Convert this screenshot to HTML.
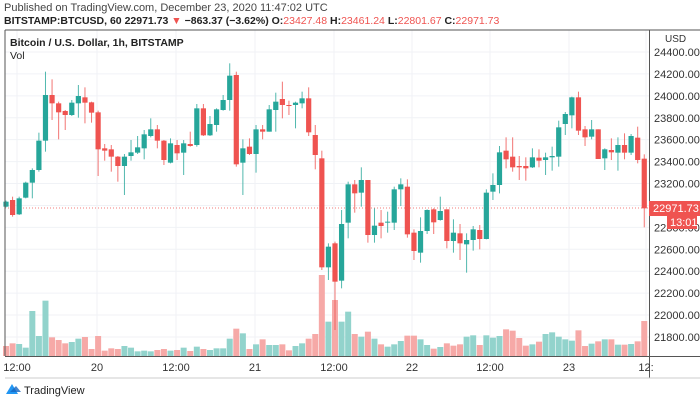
<!DOCTYPE html>
<html><head><meta charset="utf-8"><style>
body{margin:0;width:700px;height:402px;background:#fff;overflow:hidden;font-family:"Liberation Sans",sans-serif}
svg{position:absolute;left:0;top:0}
</style></head><body>
<svg id="s" width="700" height="402" xmlns="http://www.w3.org/2000/svg" font-family="Liberation Sans, sans-serif"></svg>
<script>
const C=[
[1,'g',455,470,452,472],[2,'r',450,495,440,500],[3,'g',445,493,440,495],[4,'g',398,443,395,445],[5,'g',360,398,355,445],
[6,'g',272,360,248,365],[7,'g',135,272,65,305],[8,'r',135,160,88,210],[9,'r',160,187,155,268],[10,'r',183,195,180,240],
[11,'g',158,195,150,198],[12,'g',138,160,105,203],[13,'r',142,158,112,220],[14,'r',157,188,155,218],[15,'r',187,298,182,378],
[16,'r',295,302,282,332],[17,'r',298,320,285,365],[18,'r',320,348,318,395],[19,'g',320,348,312,435],[20,'g',307,318,270,332],
[21,'g',292,308,258,312],[22,'g',253,295,240,328],[23,'g',238,258,205,262],[24,'r',238,272,225,295],[25,'r',272,330,270,345],
[26,'g',280,338,265,340],[27,'r',285,310,270,330],[28,'g',280,308,270,375],[29,'r',282,288,245,290],[30,'g',175,285,162,290],
[31,'r',175,256,162,258],[32,'g',222,256,198,258],[33,'g',178,225,175,245],[34,'g',150,180,135,182],[35,'g',77,150,40,182],
[36,'r',75,343,65,350],[37,'g',295,338,268,435],[38,'r',290,312,265,315],[39,'g',238,312,225,368],[40,'r',238,245,225,268],
[41,'g',178,245,165,245],[42,'g',155,180,128,245],[43,'r',147,165,95,205],[44,'r',165,168,152,195],[45,'g',158,165,155,235],
[46,'g',145,160,125,175],[47,'r',145,247,112,258],[48,'r',255,315,225,358],[49,'r',325,652,302,660],[50,'g',590,652,580,690],
[51,'r',580,695,575,840],[52,'g',522,692,480,715],[53,'g',403,518,395,565],
[54,'r',403,430,390,488],[55,'g',390,428,352,470],[56,'r',390,555,390,578],[57,'g',527,555,475,578],[58,'r',518,528,480,565],
[59,'g',515,518,485,548],[60,'g',418,518,410,540],[61,'g',403,418,385,468],[62,'r',410,553,388,563],[63,'r',548,603,538,630],
[64,'g',543,608,502,638],[65,'g',480,543,478,552],[66,'r',478,517,475,552],[67,'g',483,510,440,512],[68,'r',478,573,478,595],
[69,'g',548,573,508,608],[70,'r',550,580,522,630],[71,'g',570,583,550,668],[72,'g',538,570,528,602],[73,'r',540,567,525,598],
[74,'g',428,567,418,568],[75,'g',405,425,370,450],[76,'g',307,405,288,430],[77,'r',302,328,262,355],[78,'r',320,352,262,365],
[79,'r',348,352,318,390],[80,'r',348,355,322,392],[81,'g',322,352,295,354],[82,'r',323,332,298,352],[83,'g',322,330,308,375],
[84,'g',318,322,290,362],[85,'g',232,320,212,350],[86,'g',192,222,186,255],[87,'g',142,196,140,235],[88,'r',142,242,125,255],
[89,'r',238,262,228,288],[90,'g',238,260,210,268],[91,'r',238,327,238,327],[92,'g',298,325,295,360],[93,'r',300,307,265,330],
[94,'g',285,308,262,362],[95,'r',285,308,250,328],[96,'g',258,308,252,315],[97,'r',263,330,230,340],[98,'r',326,475,313,532]];
const V=[[888,'r'],[880,'r'],[882,'g'],[893,'g'],[783,'g'],[858,'g'],[752,'g'],[862,'r'],[870,'r'],[880,'r'],[876,'g'],[866,'g'],[861,'r'],[897,'r'],[858,'r'],[902,'r'],[895,'r'],[897,'r'],[888,'g'],[893,'g'],[904,'g'],[902,'g'],[904,'g'],[900,'r'],[897,'r'],[902,'g'],[900,'r'],[893,'g'],[903,'r'],[890,'g'],[897,'r'],[900,'g'],[895,'g'],[895,'g'],[866,'g'],[836,'r'],[850,'g'],[897,'r'],[883,'g'],[868,'r'],[885,'g'],[885,'g'],[883,'r'],[901,'r'],[888,'g'],[880,'g'],[866,'r'],[852,'r'],[675,'r'],[815,'g'],[750,'r'],[815,'g'],[785,'g'],
[852,'r'],[860,'g'],[845,'r'],[866,'g'],[883,'r'],[890,'g'],[883,'g'],[873,'g'],[857,'r'],[857,'r'],[868,'g'],[885,'g'],[896,'r'],[891,'g'],[880,'r'],[887,'r'],[883,'r'],[860,'g'],[856,'g'],[885,'r'],[856,'g'],[863,'g'],[858,'g'],[838,'r'],[842,'r'],[864,'r'],[887,'r'],[883,'g'],[875,'r'],[852,'g'],[847,'g'],[860,'g'],[868,'g'],[872,'g'],[841,'r'],[888,'r'],[881,'g'],[874,'r'],[868,'g'],[868,'r'],[884,'g'],[884,'r'],[882,'g'],[874,'r'],[813,'r']];
const Y=z=>50+z/3, X=i=>6+(i-1)*6.58;
let h='';
// grid
const vx=[17,97,176,255,334,412,490,569,646];
vx.forEach(x=>h+=`<line x1="${x}" y1="30" x2="${x}" y2="356" stroke="#f0f2f6"/>`);
for(let p=24400;p>=21800;p-=200){const y=52+(24400-p)/200*21.92;h+=`<line x1="5" y1="${y}" x2="649" y2="${y}" stroke="#f0f2f6"/>`;
 h+=`<text x="654" y="${y+4}" font-size="11" fill="#333">${p}.00</text>`;}
h+=`<text x="665" y="42" font-size="10" fill="#333">USD</text>`;
// volumes
V.forEach((v,k)=>{const x=X(k+1);const y=Y(v[0]);h+=`<rect x="${x-3}" y="${y}" width="6" height="${356-y}" fill="${v[1]=='g'?'#92d3cc':'#f6a9a7'}"/>`});
// price line
h+=`<line x1="5" y1="208" x2="649" y2="208" stroke="#ef5350" stroke-dasharray="1,2" stroke-width="0.8"/>`;
C.forEach(c=>{const x=X(c[0]);const col=c[1]=='g'?'#26a69a':'#ef5350';
 h+=`<line x1="${x}" y1="${Y(c[4])}" x2="${x}" y2="${Y(c[5])}" stroke="${col}" stroke-opacity="0.8"/>`;
 h+=`<rect x="${x-2.6}" y="${Y(c[2])}" width="5.2" height="${Math.max(1,(c[3]-c[2])/3)}" fill="${col}"/>`;});
// frame
h+=`<line x1="5" y1="30" x2="700" y2="30" stroke="#555"/><line x1="5" y1="30" x2="5" y2="356" stroke="#555"/>`;
h+=`<line x1="649.5" y1="30" x2="649.5" y2="378" stroke="#555"/><line x1="5" y1="356.5" x2="700" y2="356.5" stroke="#555"/>`;
h+=`<line x1="5" y1="378" x2="700" y2="378" stroke="#ccc"/>`;
// price labels
h+=`<rect x="649" y="201" width="51" height="15" fill="#ef5350"/><text x="653" y="212" font-size="11" fill="#fff">22971.73</text>`;
h+=`<rect x="667" y="216" width="30" height="13" fill="#ef5350"/><text x="670" y="226" font-size="11" fill="#fff">13:01</text>`;
// time labels
[['12:00',17],['20',97],['12:00',176],['21',255],['12:00',334],['22',412],['12:00',490],['23',569],['12:',646]].forEach(t=>h+=`<text x="${t[1]}" y="371" font-size="11" fill="#333" text-anchor="middle">${t[0]}</text>`);
// header
h+=`<text x="4" y="11" font-size="11" fill="#444">Published on TradingView.com, December 23, 2020 11:47:02 UTC</text>`;
h+=`<text x="4" y="24" font-size="10.5" fill="#222"><tspan font-weight="bold">BITSTAMP:BTCUSD, 60</tspan> <tspan font-weight="bold">22971.73</tspan> <tspan fill="#ef5350">▼</tspan> <tspan font-weight="bold">−863.37 (−3.62%)</tspan> <tspan font-weight="bold">O:</tspan><tspan fill="#ef5350">23427.48</tspan> <tspan font-weight="bold">H:</tspan><tspan fill="#ef5350">23461.24</tspan> <tspan font-weight="bold">L:</tspan><tspan fill="#ef5350">22801.67</tspan> <tspan font-weight="bold">C:</tspan><tspan fill="#ef5350">22971.73</tspan></text>`;
h+=`<text x="10" y="46" font-size="10.5" font-weight="bold" fill="#222">Bitcoin / U.S. Dollar, 1h, BITSTAMP</text>`;
h+=`<text x="10" y="59" font-size="10.5" fill="#222">Vol</text>`;
// footer logo
h+=`<path d="M6 394 L12 384 L18 394 Z" fill="#2196f3"/><path d="M10 392 L16 386 L21 392 Z" fill="#1565c0" opacity="0.8"/>`;
h+=`<text x="24" y="394" font-size="11" fill="#222">TradingView</text>`;
document.getElementById('s').innerHTML=h;
</script>
</body></html>
